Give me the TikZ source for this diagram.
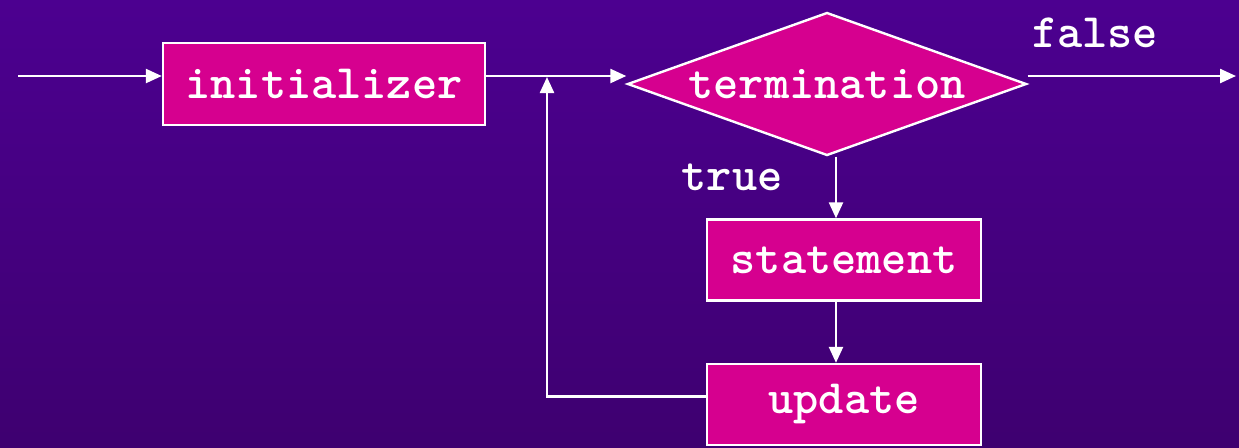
\documentclass[tikz,border=0pt]{standalone}
\usepackage{fontspec}
\usetikzlibrary{shapes.geometric,arrows.meta}
\definecolor{bgtop}{RGB}{76,0,144}
\definecolor{bgbot}{RGB}{62,0,112}
\definecolor{boxfill}{RGB}{214,0,143}
\begin{document}
\begin{tikzpicture}[x=0.5pt,y=-0.5pt,
  codefont/.style={font=\ttfamily\bfseries\fontsize{24}{28}\selectfont},
  flow/.style={draw=white,line width=1.2pt,-{Triangle[length=8pt,width=7pt]}},
  procbox/.style={rectangle,draw=white,line width=1.2pt,fill=boxfill,text=white,
    codefont,inner sep=0pt},
  decision/.style={diamond,draw=white,line width=1.2pt,fill=boxfill,text=white,
    codefont,inner sep=0pt,aspect=2.79,minimum width=199.5pt,minimum height=71.5pt},
  lbl/.style={text=white,codefont,inner sep=0pt}]
  % background
  \fill[top color=bgtop,bottom color=bgbot] (0,0) rectangle (1239,447);
  \useasboundingbox (0,0) rectangle (1239,447);

  % flowchart nodes
  \node[procbox,minimum width=161pt,minimum height=41pt] (init) at (324,84) {initializer};
  \node[decision] (term) at (827,84) {termination};
  \node[procbox,minimum width=137pt,minimum height=40.5pt] (stmt) at (844,260) {statement};
  \node[procbox,minimum width=137pt,minimum height=40.5pt] (upd) at (844,404.5) {update};

  % branch labels
  \node[lbl] (lfalse) at (1095,33) {false};
  \node[lbl] (ltrue) at (732,177) {true};

  % free ends of connectors
  \coordinate (start) at (18,76);
  \coordinate (out) at (1236,76);
  \coordinate (join) at (547,77);

  % connectors
  \draw[flow] (start) -- ([yshift=4pt]init.west);
  \draw[flow] ([yshift=4pt]init.east) -- ([yshift=4pt]term.west);
  \draw[flow] ([yshift=4pt]term.east) -- (out);
  \draw[flow] ([xshift=-4pt]stmt.north |- term.south) -- ([xshift=-4pt]stmt.north);
  \draw[flow] ([xshift=-4pt]stmt.south) -- ([xshift=-4pt]upd.north);
  \draw[flow] ([yshift=4pt]upd.west) -| (join);
\end{tikzpicture}
\end{document}
